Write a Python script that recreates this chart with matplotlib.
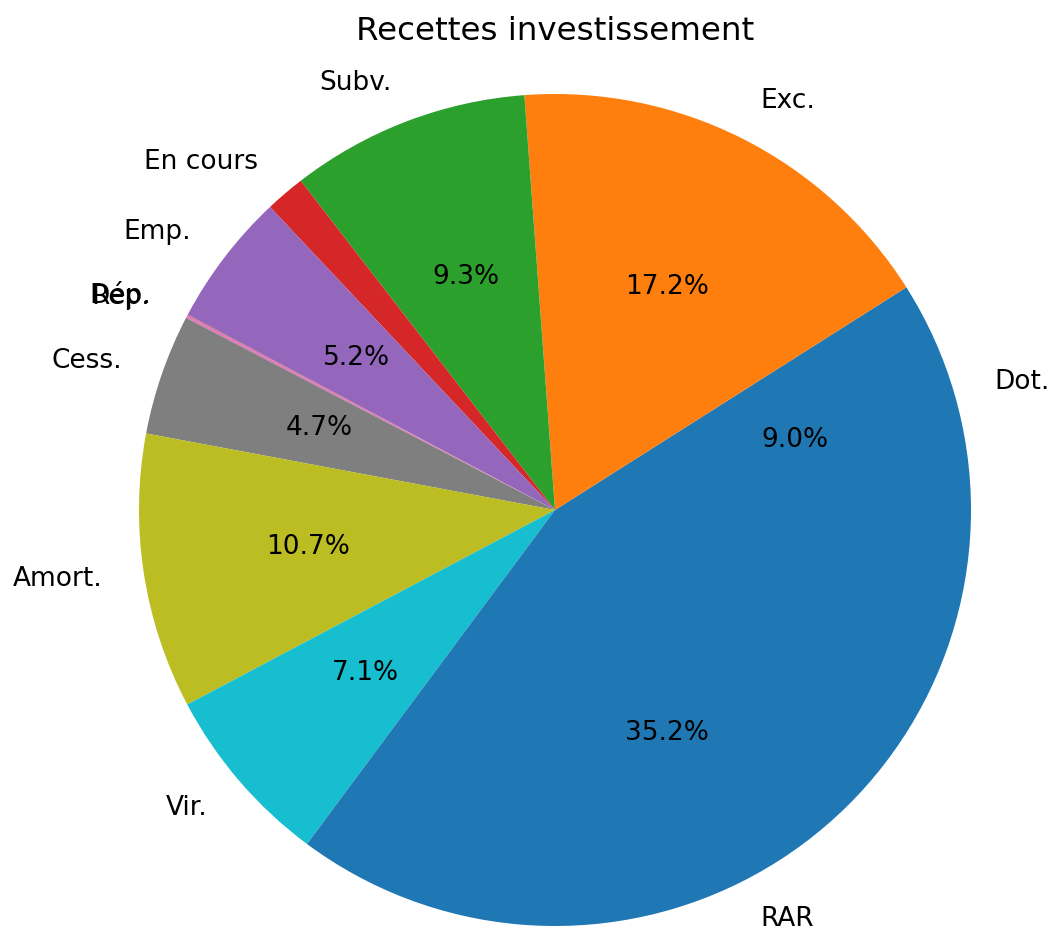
import matplotlib
matplotlib.use("Agg")
import matplotlib.pyplot as plt

labels = ["Dot.", "Exc.", "Subv.", "En cours", "Emp.", "Dép.", "Rep.", "Cess.", "Amort.", "Vir.", "RAR"]
values = [9.0, 17.2, 9.3, 1.55, 5.2, 0.03, 0.12, 4.7, 10.7, 7.1, 35.2]
colors = ["C0", "C1", "C2", "C3", "C4", "C5", "C6", "C7", "C8", "C9", "C0"]
title = "Recettes investissement"

W, H = 1052, 932
fig = plt.figure(figsize=(W / 100, H / 100), dpi=100)
ax = fig.add_axes([0, 0, 1, 1])

ax.pie(values, labels=labels, colors=colors,
       autopct=lambda p: f"{p:.1f}%" if p > 2 else "",
       textprops={"fontsize": 19})

cx, cy, r = 555, 510, 416
ax.set_xlim(-cx / r, (W - cx) / r)
ax.set_ylim(-(H - cy) / r, cy / r)
ax.set_aspect("equal")
ax.axis("off")

fig.text(555 / W, 1 - 32 / H, title, ha="center", va="center", fontsize=23.4)

fig.savefig("out.png", dpi=100)
